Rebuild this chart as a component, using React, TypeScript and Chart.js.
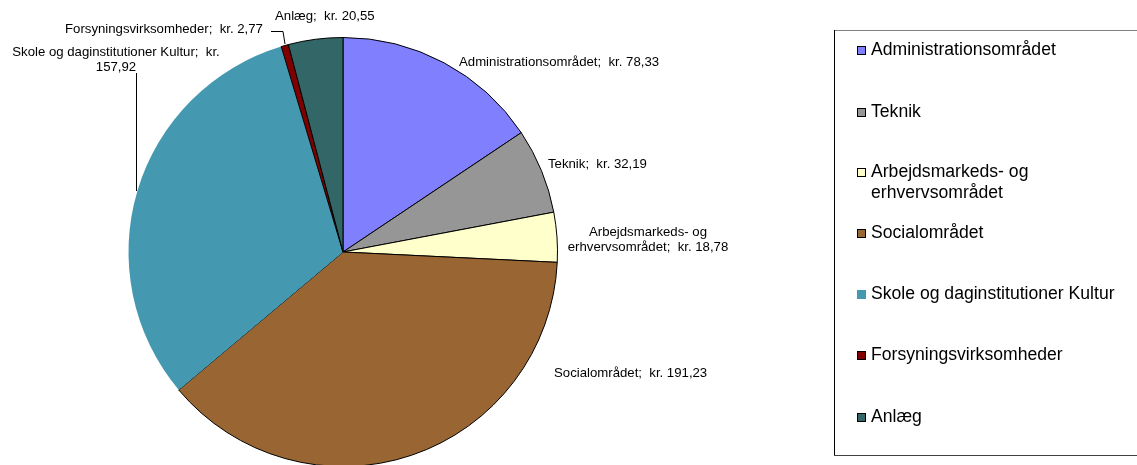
import React, { useEffect, useRef } from "react";
import { Chart, registerables } from "chart.js";

Chart.register(...registerables);

const categories = [
  "Administrationsområdet",
  "Teknik",
  "Arbejdsmarkeds- og erhvervsområdet",
  "Socialområdet",
  "Skole og daginstitutioner Kultur",
  "Forsyningsvirksomheder",
  "Anlæg",
];
const values = [78.33, 32.19, 18.78, 191.23, 157.92, 2.77, 20.55];
const valueLabels = ["78,33", "32,19", "18,78", "191,23", "157,92", "2,77", "20,55"];
const colors = ["#8080FF", "#969696", "#FFFFCC", "#996633", "#4499B0", "#800000", "#336666"];
const borderWidths = [1, 1, 1, 1, 0, 1, 1];
const legendLines = [
  ["Administrationsområdet"],
  ["Teknik"],
  ["Arbejdsmarkeds- og", "erhvervsområdet"],
  ["Socialområdet"],
  ["Skole og daginstitutioner Kultur"],
  ["Forsyningsvirksomheder"],
  ["Anlæg"],
];

const FONT = "'Liberation Sans', Arial, sans-serif";

const overlayPlugin = {
  id: "overlay",
  afterDraw(chart: any) {
    const ctx = chart.ctx as CanvasRenderingContext2D;
    ctx.save();
    // data labels
    ctx.fillStyle = "#000";
    ctx.font = `13.2px ${FONT}`;
    ctx.textBaseline = "middle";
    const lbl = (i: number) => `${categories[i]};  kr. ${valueLabels[i]}`;
    ctx.textAlign = "left";
    ctx.fillText(lbl(0), 459, 62);
    ctx.fillText(lbl(1), 548, 164);
    ctx.fillText(lbl(3), 554, 373);
    ctx.fillText(lbl(6), 275, 16);
    ctx.fillText(lbl(5), 65, 29);
    ctx.textAlign = "center";
    ctx.fillText("Arbejdsmarkeds- og", 648, 232);
    ctx.fillText(`erhvervsområdet;  kr. ${valueLabels[2]}`, 648, 247);
    ctx.fillText(`${categories[4]};  kr.`, 116, 52);
    ctx.fillText(valueLabels[4], 116, 67);

    // leader lines
    ctx.strokeStyle = "#000";
    ctx.lineWidth = 1;
    ctx.beginPath();
    ctx.moveTo(271, 31.5);
    ctx.lineTo(283, 31.5);
    ctx.lineTo(285, 44);
    ctx.stroke();
    ctx.beginPath();
    ctx.moveTo(136.5, 73);
    ctx.lineTo(136.5, 191);
    ctx.stroke();

    // legend box
    ctx.fillStyle = "#fff";
    ctx.fillRect(834, 30, 320, 425);
    ctx.strokeStyle = "#808080";
    ctx.beginPath();
    ctx.moveTo(834, 30.5);
    ctx.lineTo(1140, 30.5);
    ctx.stroke();
    ctx.strokeStyle = "#000";
    ctx.beginPath();
    ctx.moveTo(834.5, 30);
    ctx.lineTo(834.5, 455);
    ctx.stroke();
    ctx.strokeStyle = "#404040";
    ctx.beginPath();
    ctx.moveTo(834, 455.5);
    ctx.lineTo(1140, 455.5);
    ctx.stroke();

    const ys = [50, 112, 172, 233, 294, 355, 417];
    ctx.font = `17.6px ${FONT}`;
    ctx.textAlign = "left";
    ctx.textBaseline = "middle";
    legendLines.forEach((lines, i) => {
      const y = ys[i];
      ctx.fillStyle = colors[i];
      ctx.fillRect(857, y - 4, 9, 9);
      if (borderWidths[i] > 0) {
        ctx.strokeStyle = "#000";
        ctx.lineWidth = 1;
        ctx.strokeRect(857.5, y - 3.5, 8, 8);
      }
      ctx.fillStyle = "#000";
      lines.forEach((t, k) => ctx.fillText(t, 871, y + k * 21));
    });
    ctx.restore();
  },
};

export default function App() {
  const ref = useRef<HTMLCanvasElement>(null);
  useEffect(() => {
    if (!ref.current) return;
    const chart = new Chart(ref.current, {
      type: "pie",
      data: {
        labels: categories,
        datasets: [
          {
            data: values,
            backgroundColor: colors,
            borderColor: "#000",
            borderWidth: borderWidths,
          },
        ],
      },
      options: {
        responsive: false,
        animation: false,
        devicePixelRatio: 1,
        layout: { padding: { left: 128, right: 579, top: 37, bottom: 3 } },
        plugins: {
          legend: { display: false },
          tooltip: { enabled: false },
        },
      },
      plugins: [overlayPlugin],
    });
    return () => chart.destroy();
  }, []);
  return (
    <div style={{ position: "fixed", left: 0, top: 0, width: 1137, height: 465, overflow: "hidden", background: "#fff" }}>
      <canvas ref={ref} width={1137} height={470} style={{ display: "block", width: 1137, height: 470 }} />
    </div>
  );
}
